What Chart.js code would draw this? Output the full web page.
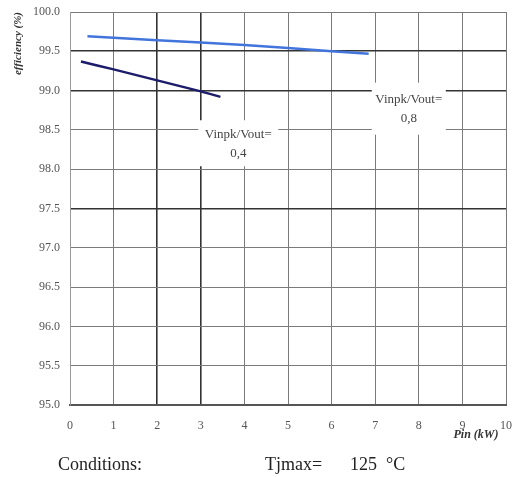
<!DOCTYPE html>
<html>
<head>
<meta charset="utf-8">
<script src="https://cdn.jsdelivr.net/npm/chart.js@4.4.1/dist/chart.umd.min.js"></script>
<style>
  html, body { margin: 0; padding: 0; background: #fff; }
  #wrap { width: 526px; height: 477px; position: relative; }
</style>
</head>
<body>
<div id="wrap"><canvas id="eff"></canvas></div>
<script>
// efficiency vs input power, two Vinpk/Vout ratios
const xTicks = [0, 1, 2, 3, 4, 5, 6, 7, 8, 9, 10];
const yTicks = [95.0, 95.5, 96.0, 96.5, 97.0, 97.5, 98.0, 98.5, 99.0, 99.5, 100.0];

const ratio04Pin = [0.25, 1, 2, 3, 3.45];
const ratio04Eff = [99.37, 99.27, 99.13, 98.99, 98.92];

const ratio08Pin = [0.4, 2, 4, 6, 6.85];
const ratio08Eff = [99.69, 99.64, 99.58, 99.50, 99.47];

const darkX = [2, 3];
const darkY = [95.0, 97.5, 99.0, 99.5];

const SERIF = '"Liberation Serif", "DejaVu Serif", serif';

function pairs(xs, ys) {
    return xs.map((x, i) => ({ x: x, y: ys[i] }));
}

// text boxes with a white background, plus the footer line
const notesPlugin = {
    id: 'notes',
    afterDatasetsDraw(chart) {
        const c = chart.ctx;
        const xs = chart.scales.x, ys = chart.scales.y;
        const boxes = [
            { x: 3.86, y: 98.33, w: 80, h: 46, lines: ['Vinpk/Vout=', '0,4'] },
            { x: 7.77, y: 98.77, w: 74, h: 52, lines: ['Vinpk/Vout=', '0,8'] }
        ];
        c.save();
        boxes.forEach(b => {
            const cx = xs.getPixelForValue(b.x);
            const cy = ys.getPixelForValue(b.y);
            c.fillStyle = '#fff';
            c.fillRect(cx - b.w / 2, cy - b.h / 2, b.w, b.h);
            c.fillStyle = '#444';
            c.font = '13px ' + SERIF;
            c.textAlign = 'center';
            c.textBaseline = 'middle';
            c.fillText(b.lines[0], cx, cy - 9);
            c.fillText(b.lines[1], cx, cy + 10);
        });

        // x axis title
        c.fillStyle = '#333';
        c.font = 'italic bold 12px ' + SERIF;
        c.textAlign = 'center';
        c.fillText('Pin (kW)', 476, 435);

        // conditions footer
        c.fillStyle = '#222';
        c.font = '18px ' + SERIF;
        c.textAlign = 'left';
        c.textBaseline = 'alphabetic';
        c.fillText('Conditions:', 58, 470);
        c.fillText('Tjmax=', 265, 470);
        c.fillText('125  \u00B0C', 350, 470);
        c.restore();
    }
};

new Chart(document.getElementById('eff'), {
    type: 'line',
    data: {
        datasets: [
            {
                label: 'Vinpk/Vout=0,8',
                data: pairs(ratio08Pin, ratio08Eff),
                borderColor: '#4275dc',
                borderWidth: 2.5,
                pointRadius: 0,
                tension: 0.3
            },
            {
                label: 'Vinpk/Vout=0,4',
                data: pairs(ratio04Pin, ratio04Eff),
                borderColor: '#1c1c6a',
                borderWidth: 2.5,
                pointRadius: 0,
                tension: 0.3
            }
        ]
    },
    plugins: [notesPlugin],
    options: {
        responsive: true,
        maintainAspectRatio: false,
        animation: false,
        layout: { padding: { top: 12, right: 16, left: 12, bottom: 0 } },
        plugins: {
            legend: { display: false },
            tooltip: { enabled: false }
        },
        scales: {
            x: {
                type: 'linear',
                min: xTicks[0],
                max: xTicks[xTicks.length - 1],
                afterBuildTicks: s => { s.ticks = xTicks.map(v => ({ value: v })); },
                afterFit: s => { s.height = 72; },
                ticks: {
                    color: '#555',
                    font: { family: SERIF, size: 12 },
                    padding: 14,
                    maxRotation: 0,
                    callback: v => String(v)
                },
                grid: {
                    drawTicks: false,
                    color: ctx => darkX.includes(ctx.tick.value) ? '#333' : '#7a7a7a',
                    lineWidth: ctx => darkX.includes(ctx.tick.value) ? 1.6 : 1
                },
                border: { display: true, color: '#555', width: 2 }
            },
            y: {
                type: 'linear',
                min: yTicks[0],
                max: yTicks[yTicks.length - 1],
                afterBuildTicks: s => { s.ticks = yTicks.map(v => ({ value: v })); },
                afterFit: s => { s.width = 58; s.paddingTop = 0; },
                title: {
                    display: true,
                    text: 'efficiency (%)',
                    align: 'end',
                    color: '#333',
                    font: { family: SERIF, size: 11, style: 'italic', weight: 'bold' },
                    padding: { top: 0, bottom: 0 }
                },
                ticks: {
                    color: '#555',
                    font: { family: SERIF, size: 12 },
                    padding: 10,
                    callback: v => Number(v).toFixed(1)
                },
                grid: {
                    drawTicks: false,
                    color: ctx => darkY.includes(ctx.tick.value) ? '#333' : '#7a7a7a',
                    lineWidth: ctx => darkY.includes(ctx.tick.value) ? 1.6 : 1
                },
                border: { display: true, color: '#999', width: 1 }
            }
        }
    }
});
</script>
</body>
</html>
